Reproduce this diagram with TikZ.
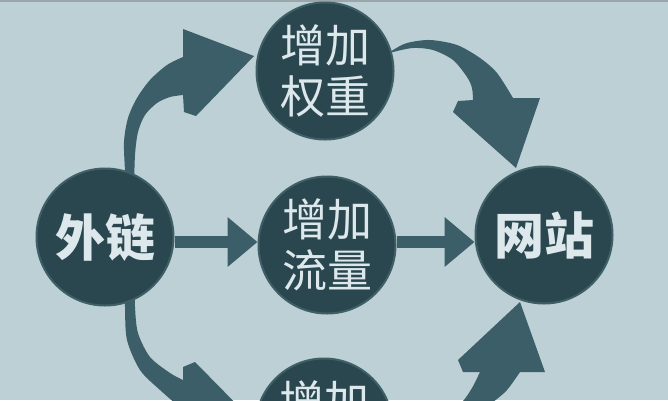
\documentclass[tikz,border=0pt]{standalone}
\usepackage{fontspec}
\newfontfamily\cjk{Noto Sans CJK SC}
\usetikzlibrary{arrows.meta}
\definecolor{bgc}{HTML}{BDD0D5}
\definecolor{topc}{HTML}{9AA6A9}
\definecolor{circc}{HTML}{2A464E}
\definecolor{ringc}{HTML}{3F5F67}
\definecolor{arrc}{HTML}{3B5E68}
\definecolor{txtc}{HTML}{DCE8EB}
\pgfdeclarelayer{back}
\pgfdeclarelayer{bg}
\pgfsetlayers{back,bg,main}
\tikzset{
  hub/.style={circle, fill=circc, draw=ringc, line width=2pt, minimum size=137pt, inner sep=0pt, text=txtc},
  boldlbl/.style={font=\cjk\bfseries\fontsize{50}{50}\selectfont},
  lbl/.style={align=center, font=\cjk\fontsize{45}{51}\selectfont},
  straight/.style={draw=arrc, line width=12pt, -{Triangle[length=30pt,width=48pt]}},
  curved/.style={fill=arrc},
}
\begin{document}
\begin{tikzpicture}[x=1pt,y=-1pt]
\useasboundingbox (0,0) rectangle (668,400);
\begin{pgfonlayer}{back}
\fill[bgc] (0,0) rectangle (668,400);
\fill[topc] (0,0) rectangle (668,2);
\end{pgfonlayer}
\node[hub,boldlbl] (wl) at (105,237) {外链};
\node[hub,lbl] (qz) at (325,71) {增加\\权重};
\node[hub,lbl] (ll) at (327,245) {增加\\流量};
\node[hub,lbl] (zj) at (324,427) {增加\\\phantom{增加}};
\node[hub,boldlbl] (wz) at (544,235) {网站};
\begin{pgfonlayer}{bg}
\draw[straight] (wl.east |- 0,242) -- (ll.west |- 0,242);
\draw[straight] (ll.east |- 0,242) -- (wz.west |- 0,242);
% top-left curved arrow
\fill[curved] plot[smooth,tension=0.5] coordinates {(125,190) (125,172) (124,142) (128,118) (137,98) (150,80) (167,65) (183,57)}
  -- (183,29) -- (254,56) -- (196,116) -- (184,112) -- (183,95)
  -- plot[smooth,tension=0.5] coordinates {(183,95) (170,97) (157,103) (145,115) (138,132) (135,155) (134,190)} -- cycle;
% top-right curved arrow
\fill[curved] plot[smooth,tension=0.5] coordinates {(388,54) (393,50) (407,43) (430,40) (457,45) (480,58) (497,73) (513,98)}
  -- (540,98) -- (516,168) -- (453,112) -- (458,101) -- (473,100)
  -- plot[smooth,tension=0.5] coordinates {(473,100) (472,88) (467,77) (453,60) (433,50) (413,48) (393,52) (388,54)} -- cycle;
% bottom-left curved arrow
\fill[curved] plot[smooth,tension=0.5] coordinates {(125,285) (125,307) (127,340) (140,370) (160,390) (183,410)}
  -- (183,449) -- (254,422) -- (195,362) -- (183,367) -- (183,380)
  -- plot[smooth,tension=0.5] coordinates {(183,380) (170,373) (150,357) (138,333) (135,307) (135,285)} -- cycle;
% bottom-right curved arrow
\fill[curved] (520,302) -- (545,372) -- (520,372)
  -- plot[smooth,tension=0.5] coordinates {(520,372) (507,390) (493,402) (470,418) (440,427) (415,427) (392,421)}
  -- plot[smooth,tension=0.5] coordinates {(392,421) (420,420) (445,414) (462,402) (472,388) (480,372)}
  -- (463,372) -- (458,360) -- cycle;
\end{pgfonlayer}
\end{tikzpicture}
\end{document}
